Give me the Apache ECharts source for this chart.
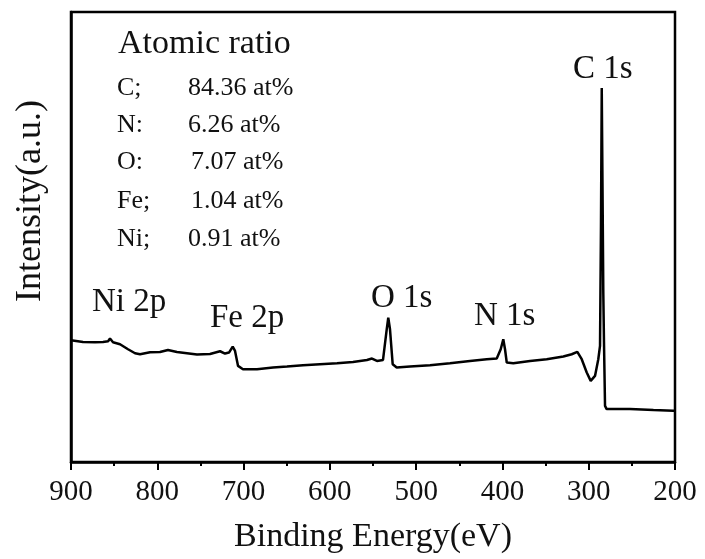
<!DOCTYPE html>
<html>
<head>
<meta charset="utf-8">
<script src="https://cdn.jsdelivr.net/npm/echarts@6/dist/echarts.min.js"></script>
<style>
html,body{margin:0;padding:0;background:#fff;}
#chart{width:705px;height:559px;}
</style>
</head>
<body>
<div id="chart"></div>
<script>
// Binding energy (eV)
var bindingEnergy = [900, 897.7, 886.1, 872.2, 862.9, 857, 854.8, 851.3, 843.2, 833.9, 825.8, 820.0, 808.4, 796.9, 787.6, 777.2, 765.6, 754.0, 738.9, 727.3, 721.5, 716.9, 712.6, 709.9, 706.4, 700.7, 684.4, 665.9, 649.7, 631.1, 611.4, 591.7, 573.2, 557.0, 551.2, 545.4, 538.4, 534.1, 532.3, 530.3, 527.2, 522.5, 507.1, 483.9, 460.8, 437.6, 418.2, 406.6, 402.0, 399.0, 397.0, 395.0, 387.4, 368.0, 348.7, 329.4, 319.7, 313.2, 308.1, 302.3, 297.7, 292.7, 288.9, 286.9, 285.8, 284.9, 283.9, 283.1, 282.3, 281.1, 279.2, 252.2, 225, 202.0, 200];
// Intensity (a.u.)
var intensity = [122, 122.3, 120.3, 120, 120.3, 121, 123.7, 120, 118, 113, 109, 108, 110, 110.3, 112.3, 110.3, 109, 107.7, 108.3, 111, 108.7, 109.7, 115.7, 111.3, 96.3, 93, 93, 94.7, 95.7, 97, 98, 99, 100.3, 102.3, 103.7, 101.3, 102.3, 133, 144.7, 133, 98, 94.7, 95.7, 97, 99, 101.3, 103, 103.7, 113, 123, 113, 99.7, 99, 101.3, 103, 105.7, 108, 110.3, 103, 89.7, 81.3, 86.3, 103, 116.3, 236, 374.7, 263, 170, 120, 56.3, 53, 53, 52, 51.3, 51.3];
var xTicks = [900, 800, 700, 600, 500, 400, 300, 200];
var peakLabels = ['Ni 2p', 'Fe 2p', 'O 1s', 'N 1s', 'C 1s'];
var ratioTitle = 'Atomic ratio';
var ratioElements = ['C;', 'N:', 'O:', 'Fe;', 'Ni;'];
var ratioValues = ['84.36 at%', '6.26 at%', '7.07 at%', '1.04 at%', '0.91 at%'];

var FONT = '"Liberation Serif", "Times New Roman", serif';
var data = bindingEnergy.map(function (e, i) { return [e, intensity[i]]; });

var peakPos = [[92, 302.5], [210, 319], [371, 298.5], [474, 317], [573, 70]];
var rowY = [88, 125, 162.5, 201, 239];
var valX = [188, 188, 191, 191, 188];

var graphics = [];
peakLabels.forEach(function (t, i) {
  graphics.push({type: 'text', left: peakPos[i][0], top: peakPos[i][1] - 17,
    style: {text: t, font: '33px ' + FONT, fill: '#111'}});
});
graphics.push({type: 'text', left: 118, top: 44 - 17,
  style: {text: ratioTitle, font: '34px ' + FONT, fill: '#111'}});
ratioElements.forEach(function (t, i) {
  graphics.push({type: 'text', left: 117, top: rowY[i] - 13,
    style: {text: t, font: '26px ' + FONT, fill: '#111'}});
  graphics.push({type: 'text', left: valX[i], top: rowY[i] - 13,
    style: {text: ratioValues[i], font: '26px ' + FONT, fill: '#111'}});
});

var chart = echarts.init(document.getElementById('chart'), null, {renderer: 'canvas'});
chart.setOption({
  animation: false,
  backgroundColor: '#fff',
  grid: {left: 71, right: 30, top: 12, bottom: 96, show: true, borderColor: '#000', borderWidth: 2.5, backgroundColor: 'transparent'},
  xAxis: {
    type: 'value', inverse: true, min: 200, max: 900, interval: 100,
    name: 'Binding Energy(eV)', nameLocation: 'middle', nameGap: 58,
    nameTextStyle: {fontFamily: FONT, fontSize: 34, color: '#111'},
    axisLine: {show: true, onZero: false, lineStyle: {color: '#000', width: 2.5}},
    axisTick: {show: true, inside: false, length: 8, lineStyle: {color: '#000', width: 2}},
    minorTick: {show: true, splitNumber: 2, length: 4, lineStyle: {color: '#000', width: 2}},
    axisLabel: {show: true, margin: 16, fontFamily: FONT, fontSize: 29, color: '#111',
      formatter: function (v) { return xTicks.indexOf(v) >= 0 ? String(v) : ''; }},
    splitLine: {show: false}
  },
  yAxis: {
    type: 'value', min: 0, max: 451,
    name: 'Intensity(a.u.)', nameLocation: 'middle', nameGap: 22,
    nameTextStyle: {fontFamily: FONT, fontSize: 36, color: '#111', padding: [0, 0, 0, 72]},
    axisLine: {show: true, lineStyle: {color: '#000', width: 2.5}},
    axisTick: {show: false}, axisLabel: {show: false}, splitLine: {show: false}
  },
  graphic: graphics,
  series: [{
    type: 'line', data: data, showSymbol: false, symbol: 'none',
    lineStyle: {color: '#000', width: 2.5}, clip: true
  }]
});
</script>
</body>
</html>
